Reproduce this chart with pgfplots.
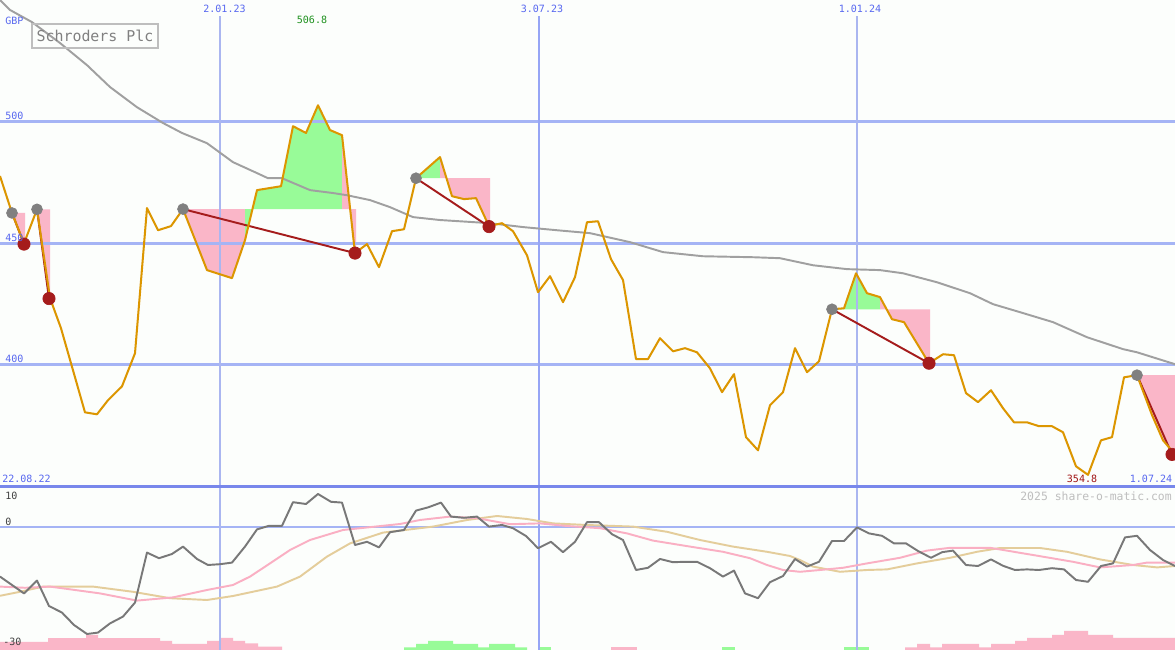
\documentclass[border=0pt]{standalone}
\usepackage{pgfplots}
\pgfplotsset{compat=1.18}
\usepackage{fontspec}
\setmonofont{DejaVu Sans Mono}
\definecolor{bg}{RGB}{252,254,252}
\definecolor{gridblue}{RGB}{165,180,245}
\definecolor{vgrid}{RGB}{170,182,240}
\definecolor{vgridstrong}{RGB}{150,165,245}
\definecolor{sepblue}{RGB}{120,135,235}
\definecolor{labblue}{RGB}{88,104,240}
\definecolor{pricecol}{RGB}{220,150,0}
\definecolor{macol}{RGB}{160,160,160}
\definecolor{fillpink}{RGB}{250,182,200}
\definecolor{fillgreen}{RGB}{152,251,152}
\definecolor{trendred}{RGB}{165,28,28}
\definecolor{dotgray}{RGB}{128,128,128}
\definecolor{momcol}{RGB}{120,120,120}
\definecolor{sigpink}{RGB}{250,175,195}
\definecolor{sigtan}{RGB}{228,205,155}
\definecolor{wmark}{RGB}{190,190,190}
\definecolor{hiGreen}{RGB}{30,145,30}
\definecolor{loRed}{RGB}{160,20,20}
\newcommand{\smallf}{\ttfamily\fontsize{5.7}{6}\selectfont}
\begin{document}
\begin{tikzpicture}
\path[use as bounding box, fill=bg] (0,0) rectangle (23.5cm,13cm);
% ---------------- main price panel ----------------
\begin{axis}[at={(0,3.26cm)}, anchor=south west, scale only axis,
  width=23.5cm, height=9.74cm, xmin=0, xmax=1175, ymin=349.8, ymax=550.1,
  axis lines=none, line join=round]
% signal fills
\addplot[draw=none, fill=fillpink] coordinates {(12,462.5)(24,450.0)(25,450.0)(25,462.5)};
\addplot[draw=none, fill=fillpink] coordinates {(37,464.0)(50,427.5)(50,464.0)};
\addplot[draw=none, fill=fillpink] coordinates {(183,464.1)(207,439.0)(232,435.7)(245,451.3)(245,464.1)};
\addplot[draw=none, fill=fillgreen] coordinates {(245,464.1)(245,451.3)(257,471.9)(281,473.5)(293,498.2)(306,495.4)(318,506.8)(330,496.6)(342,494.5)(342,464.1)};
\addplot[draw=none, fill=fillpink] coordinates {(342,464.1)(342,494.5)(355,446.0)(356,446.0)(356,464.1)};
\addplot[draw=none, fill=fillgreen] coordinates {(416,476.8)(440,485.5)(440,476.8)};
\addplot[draw=none, fill=fillpink] coordinates {(440,476.8)(440,485.5)(452,469.4)(464,468.2)(476,468.6)(489,457.1)(490,457.1)(490,476.8)};
\addplot[draw=none, fill=fillgreen] coordinates {(832,422.9)(844,423.3)(856,437.7)(867,429.5)(880,427.9)(880,422.9)};
\addplot[draw=none, fill=fillpink] coordinates {(880,422.9)(880,427.9)(892,418.8)(904,417.6)(929,400.7)(930,400.7)(930,422.9)};
\addplot[draw=none, fill=fillpink] coordinates {(1137,395.8)(1152,379.4)(1163,369.0)(1175,363.2)(1175,395.8)};
% grid
\addplot[gridblue, line width=1.7pt] coordinates {(0,500)(1175,500)};
\addplot[gridblue, line width=1.7pt] coordinates {(0,450)(1175,450)};
\addplot[gridblue, line width=1.7pt] coordinates {(0,400)(1175,400)};
\addplot[vgrid, line width=0.6pt] coordinates {(220,349.8)(220,543.5)};
\addplot[vgridstrong, line width=1.1pt] coordinates {(539,349.8)(539,543.5)};
\addplot[vgrid, line width=0.6pt] coordinates {(857,349.8)(857,543.5)};
% long moving average
\addplot[macol, line width=1.1pt] coordinates {
(-8,553.4)(0,550.1)(10,546.0)(32,541.0)(60,532.4)(87,523.3)(110,514.3)(137,506.0)
(163,499.5)(182,495.4)(207,491.2)(233,483.4)(257,478.9)(268,476.8)(282,476.8)
(310,471.9)(333,470.7)(347,469.8)(370,467.8)(390,464.9)(413,460.8)(440,459.6)
(490,458.3)(523,456.7)(557,455.4)(590,454.2)(630,450.5)(663,446.4)(703,444.7)
(753,444.3)(780,443.9)(813,441.0)(847,439.4)(880,439.0)(903,437.7)(937,434.0)
(970,429.5)(993,425.0)(1020,421.7)(1053,417.6)(1087,411.4)(1123,406.5)(1137,405.2)(1175,400.3)};
% trend lines
\addplot[trendred, line width=1.1pt] coordinates {(12,462.5)(24,449.7)};
\addplot[trendred, line width=1.1pt] coordinates {(37,464.0)(49,427.3)};
\addplot[trendred, line width=1.1pt] coordinates {(183,464.1)(355,446.0)};
\addplot[trendred, line width=1.1pt] coordinates {(416,476.8)(489,456.9)};
\addplot[trendred, line width=1.1pt] coordinates {(832,422.9)(929,400.7)};
\addplot[trendred, line width=1.1pt] coordinates {(1137,395.8)(1172,363.2)};
% signal dots
\addplot[only marks, mark=*, mark size=3.1pt, dotgray] coordinates {(12,462.5)(37,464.0)(183,464.1)(416,476.8)(832,422.9)(1137,395.8)};
\addplot[only marks, mark=*, mark size=3.5pt, trendred] coordinates {(24,449.7)(49,427.3)(355,446.0)(489,456.9)(929,400.7)(1172,363.2)};
% price
\addplot[pricecol, line width=1.15pt] coordinates {
(0,477.7)(12,462.5)(24,450.0)(37,464.0)(50,427.5)(61,415.1)(85,380.5)(97,379.7)
(108,385.5)(122,391.2)(135,404.8)(147,464.5)(158,455.4)(171,457.1)(183,464.1)
(207,439.0)(232,435.7)(245,451.3)(257,471.9)(281,473.5)(293,498.2)(306,495.4)
(318,506.8)(330,496.6)(342,494.5)(355,446.0)(367,449.7)(379,440.2)(392,455.0)
(404,455.8)(416,476.8)(440,485.5)(452,469.4)(464,468.2)(476,468.6)(489,457.1)
(502,458.3)(513,455.0)(527,445.1)(538,429.9)(550,436.5)(563,425.8)(575,436.1)
(587,458.7)(598,459.1)(611,443.5)(623,434.9)(636,402.4)(648,402.4)(660,411.0)
(673,405.6)(685,406.9)(697,405.2)(710,398.6)(722,388.8)(734,396.2)(746,370.3)
(758,364.9)(770,383.4)(783,388.8)(795,406.9)(807,397.0)(819,401.5)(832,422.9)
(844,423.3)(856,437.7)(867,429.5)(880,427.9)(892,418.8)(904,417.6)(929,400.7)
(943,404.4)(954,404.0)(966,388.4)(978,384.7)(991,389.6)(1003,382.2)(1014,376.4)
(1027,376.4)(1039,374.8)(1052,374.8)(1063,372.3)(1076,358.3)(1088,354.8)
(1101,369.0)(1112,370.3)(1124,394.9)(1137,395.8)(1152,379.4)(1163,369.0)(1175,363.2)};
\end{axis}
% ---------------- indicator panel ----------------
\begin{axis}[at={(0,0)}, anchor=south west, scale only axis,
  width=23.5cm, height=3.26cm, xmin=0, xmax=1175, ymin=-30.75, ymax=10,
  axis lines=none, line join=round]
% histogram
\addplot[draw=none, fill=fillpink] coordinates {(0,-31)(0,-28.7)(48,-28.7)(48,-27.8)(86,-27.8)(86,-27)(98,-27)(98,-27.8)(160,-27.8)(160,-28.5)(172,-28.5)(172,-29.25)(207,-29.25)(207,-28.5)(220,-28.5)(220,-27.75)(233,-27.75)(233,-28.5)(245,-28.5)(245,-29.1)(258,-29.1)(258,-29.9)(282,-29.9)(282,-31)};
\addplot[draw=none, fill=fillgreen] coordinates {(404,-31)(404,-30.1)(416,-30.1)(416,-29.25)(428,-29.25)(428,-28.5)(453,-28.5)(453,-29.25)(478,-29.25)(478,-30.1)(489,-30.1)(489,-29.25)(515,-29.25)(515,-30.1)(527,-30.1)(527,-31)};
\addplot[draw=none, fill=fillgreen] coordinates {(538,-31)(538,-30.1)(551,-30.1)(551,-31)};
\addplot[draw=none, fill=fillpink] coordinates {(611,-31)(611,-30.1)(637,-30.1)(637,-31)};
\addplot[draw=none, fill=fillgreen] coordinates {(722,-31)(722,-30.1)(735,-30.1)(735,-31)};
\addplot[draw=none, fill=fillgreen] coordinates {(844,-31)(844,-30.1)(869,-30.1)(869,-31)};
\addplot[draw=none, fill=fillpink] coordinates {(905,-31)(905,-30.1)(917,-30.1)(917,-29.25)(930,-29.25)(930,-30.1)(942,-30.1)(942,-29.25)(979,-29.25)(979,-30.1)(991,-30.1)(991,-29.25)(1015,-29.25)(1015,-28.5)(1027,-28.5)(1027,-27.7)(1052,-27.7)(1052,-27)(1064,-27)(1064,-26)(1088,-26)(1088,-27)(1113,-27)(1113,-27.7)(1175,-27.7)(1175,-31)};
% grid
\addplot[gridblue, line width=1.7pt] coordinates {(0,0)(1175,0)};
\addplot[vgrid, line width=0.6pt] coordinates {(220,-31)(220,10)};
\addplot[vgridstrong, line width=1.1pt] coordinates {(539,-31)(539,10)};
\addplot[vgrid, line width=0.6pt] coordinates {(857,-31)(857,10)};
% tan signal
\addplot[sigtan, line width=1.1pt] coordinates {
(0,-17.2)(20,-16.2)(43,-14.9)(93,-14.9)(133,-16.2)(170,-17.8)(207,-18.25)(233,-17.25)
(277,-14.9)(300,-12.4)(327,-7.4)(350,-4.1)(383,-1.4)(400,-0.9)(433,0.1)(467,1.75)
(497,2.75)(527,2.0)(553,0.9)(587,0.5)(633,0.1)(667,-1.2)(700,-3.25)(733,-4.9)
(767,-6.2)(790,-7.25)(800,-8.25)(813,-9.9)(840,-11.2)(867,-10.75)(887,-10.6)
(917,-9.1)(950,-7.7)(977,-6.2)(1000,-5.25)(1040,-5.25)(1067,-6.2)(1100,-8.1)
(1133,-9.5)(1157,-10.1)(1175,-9.75)};
% pink signal
\addplot[sigpink, line width=1.1pt] coordinates {
(0,-14.9)(25,-15.2)(50,-14.9)(100,-16.6)(137,-18.4)(173,-17.6)(207,-15.75)(233,-14.5)
(250,-12.4)(270,-9.1)(290,-5.75)(310,-3.25)(343,-0.75)(400,0.75)(420,1.75)(450,2.6)
(477,2.2)(510,0.7)(540,0.9)(567,0.25)(600,-0.3)(627,-1.6)(653,-3.4)(690,-4.9)
(723,-6.2)(750,-7.8)(767,-9.5)(783,-10.75)(800,-11.2)(820,-10.75)(843,-10.2)
(867,-9.1)(900,-7.7)(927,-5.9)(950,-5.2)(990,-5.2)(1033,-7.0)(1073,-8.7)
(1100,-10.1)(1133,-9.5)(1147,-8.9)(1175,-8.9)};
% momentum
\addplot[momcol, line width=1.1pt] coordinates {
(0,-12.4)(24,-16.6)(37,-13.4)(49,-19.75)(62,-21.4)(74,-24.5)(87,-26.75)(98,-26.4)
(110,-24.1)(123,-22.4)(135,-18.9)(147,-6.4)(159,-7.8)(172,-6.75)(183,-4.9)(197,-8.0)
(208,-9.5)(220,-9.3)(232,-8.9)(245,-4.9)(257,-0.6)(269,0.3)(282,0.3)(293,6.2)
(306,5.75)(318,8.25)(331,6.3)(342,6.1)(355,-4.5)(367,-3.7)(379,-5.1)(390,-1.3)
(404,-0.75)(416,4.1)(428,4.9)(441,6.1)(451,2.6)(464,2.3)(477,2.6)(489,0.1)(502,0.5)
(513,-0.3)(526,-2.25)(538,-5.3)(551,-3.7)(563,-6.3)(575,-3.7)(587,1.2)(599,1.2)
(612,-1.8)(623,-3.25)(636,-10.75)(648,-10.2)(660,-8.0)(673,-8.8)(685,-8.7)(697,-8.7)
(710,-10.3)(723,-12.4)(734,-10.9)(745,-16.6)(758,-17.8)(770,-13.8)(783,-12.25)
(795,-8.0)(807,-9.9)(819,-8.7)(832,-3.5)(844,-3.5)(857,-0.1)(869,-1.6)(882,-2.2)
(894,-4.1)(906,-4.1)(918,-6.0)(931,-7.7)(942,-6.3)(953,-5.9)(966,-9.5)(978,-9.75)
(991,-8.1)(1003,-9.7)(1015,-10.75)(1027,-10.6)(1039,-10.75)(1052,-10.3)(1064,-10.6)
(1076,-13.25)(1088,-13.7)(1101,-9.75)(1113,-9.1)(1125,-2.6)(1137,-2.2)(1150,-5.75)
(1163,-8.25)(1175,-9.75)};
\end{axis}
% separator
\draw[sepblue, line width=1.7pt] (0,3.26cm) -- (23.5cm,3.26cm);
% labels
\node[anchor=west, inner sep=0pt, text=labblue, font=\smallf] at (0.10cm,12.58cm) {GBP};
\node[anchor=west, inner sep=0pt, text=labblue, font=\smallf] at (0.10cm,10.68cm) {500};
\node[anchor=west, inner sep=0pt, text=labblue, font=\smallf] at (0.10cm,8.24cm) {450};
\node[anchor=west, inner sep=0pt, text=labblue, font=\smallf] at (0.10cm,5.82cm) {400};
\node[anchor=west, inner sep=0pt, text=labblue, font=\smallf] at (0.04cm,3.42cm) {22.08.22};
\node[inner sep=0pt, text=labblue, font=\smallf] at (4.49cm,12.82cm) {2.01.23};
\node[inner sep=0pt, text=labblue, font=\smallf] at (10.84cm,12.82cm) {3.07.23};
\node[inner sep=0pt, text=labblue, font=\smallf] at (17.20cm,12.82cm) {1.01.24};
\node[inner sep=0pt, text=labblue, font=\smallf] at (23.02cm,3.42cm) {1.07.24};
\node[inner sep=0pt, text=hiGreen, font=\smallf] at (6.24cm,12.60cm) {506.8};
\node[inner sep=0pt, text=loRed, font=\smallf] at (21.64cm,3.42cm) {354.8};
\draw[wmark, line width=1.1pt] (0.64cm,12.52cm) rectangle (3.16cm,12.04cm);
\node[inner sep=0pt, text=dotgray, font=\ttfamily\fontsize{8.5}{9}\selectfont] at (1.90cm,12.28cm) {Schroders Plc};
\node[anchor=east, inner sep=0pt, text=wmark, font=\ttfamily\fontsize{6.5}{7}\selectfont] at (23.44cm,3.08cm) {2025 share-o-matic.com};
\node[anchor=west, inner sep=0pt, text=darkgray, font=\smallf] at (0.10cm,3.08cm) {10};
\node[anchor=west, inner sep=0pt, text=darkgray, font=\smallf] at (0.10cm,2.56cm) {0};
\node[anchor=west, inner sep=0pt, text=darkgray, font=\smallf] at (0.06cm,0.16cm) {-30};
\end{tikzpicture}
\end{document}
